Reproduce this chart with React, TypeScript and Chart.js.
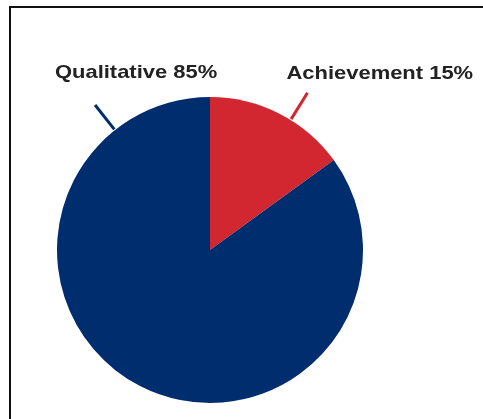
import React, { useEffect, useRef } from "react";
import { Chart, registerables } from "chart.js";

Chart.register(...registerables);

const categories = ["Achievement", "Qualitative"];
const shares = [15, 85];
const colors = ["#D22630", "#002D6E"];
// leader line angle (degrees clockwise from 12 o'clock) per category
const leaderAngles = [31.8, -38.4];

const labelPlugin = {
  id: "pieLabels",
  afterDatasetsDraw(chart: any) {
    const ctx = chart.ctx;
    const meta = chart.getDatasetMeta(0);
    meta.data.forEach((arc: any, i: number) => {
      const cx = arc.x;
      const cy = arc.y;
      const r = arc.outerRadius;
      const a = (leaderAngles[i] * Math.PI) / 180;
      const sx = cx + (r + 1) * Math.sin(a);
      const sy = cy - (r + 1) * Math.cos(a);
      const ex = cx + (r + 32) * Math.sin(a);
      const ey = cy - (r + 32) * Math.cos(a);
      ctx.save();
      ctx.strokeStyle = colors[i];
      ctx.lineWidth = 3;
      ctx.beginPath();
      ctx.moveTo(sx, sy);
      ctx.lineTo(ex, ey);
      ctx.stroke();
      ctx.fillStyle = "#222222";
      ctx.font = "bold 19px 'Liberation Sans', Arial, sans-serif";
      ctx.textBaseline = "alphabetic";
      const text = `${categories[i]} ${shares[i]}%`;
      if (i === 0) {
        ctx.textAlign = "left";
        ctx.translate(ex - 21, ey - 14);
      } else {
        ctx.textAlign = "center";
        ctx.translate(ex + 41, ey - 27);
      }
      ctx.scale(1.155, 1);
      ctx.fillText(text, 0, 0);
      ctx.restore();
    });
  },
};

export default function App() {
  const ref = useRef<HTMLCanvasElement>(null);
  useEffect(() => {
    if (!ref.current) return;
    const chart = new Chart(ref.current, {
      type: "pie",
      data: {
        labels: categories,
        datasets: [
          {
            data: shares,
            backgroundColor: colors,
            borderWidth: 0,
            hoverOffset: 0,
          },
        ],
      },
      options: {
        responsive: false,
        animation: false,
        layout: { padding: { left: 57, right: 120, top: 97, bottom: 16 } },
        plugins: {
          legend: { display: false },
          tooltip: { enabled: false },
        },
      },
      plugins: [labelPlugin],
    });
    return () => chart.destroy();
  }, []);

  return (
    <div
      style={{
        position: "fixed",
        left: 0,
        top: 0,
        width: 483,
        height: 419,
        overflow: "hidden",
        background: "#fff",
      }}
    >
      <div
        style={{
          position: "absolute",
          left: 9,
          top: 6,
          width: 600,
          height: 600,
          border: "2px solid #111",
          boxSizing: "border-box",
        }}
      />
      <canvas
        ref={ref}
        width={483}
        height={419}
        style={{ position: "absolute", left: 0, top: 0, width: 483, height: 419 }}
      />
    </div>
  );
}
